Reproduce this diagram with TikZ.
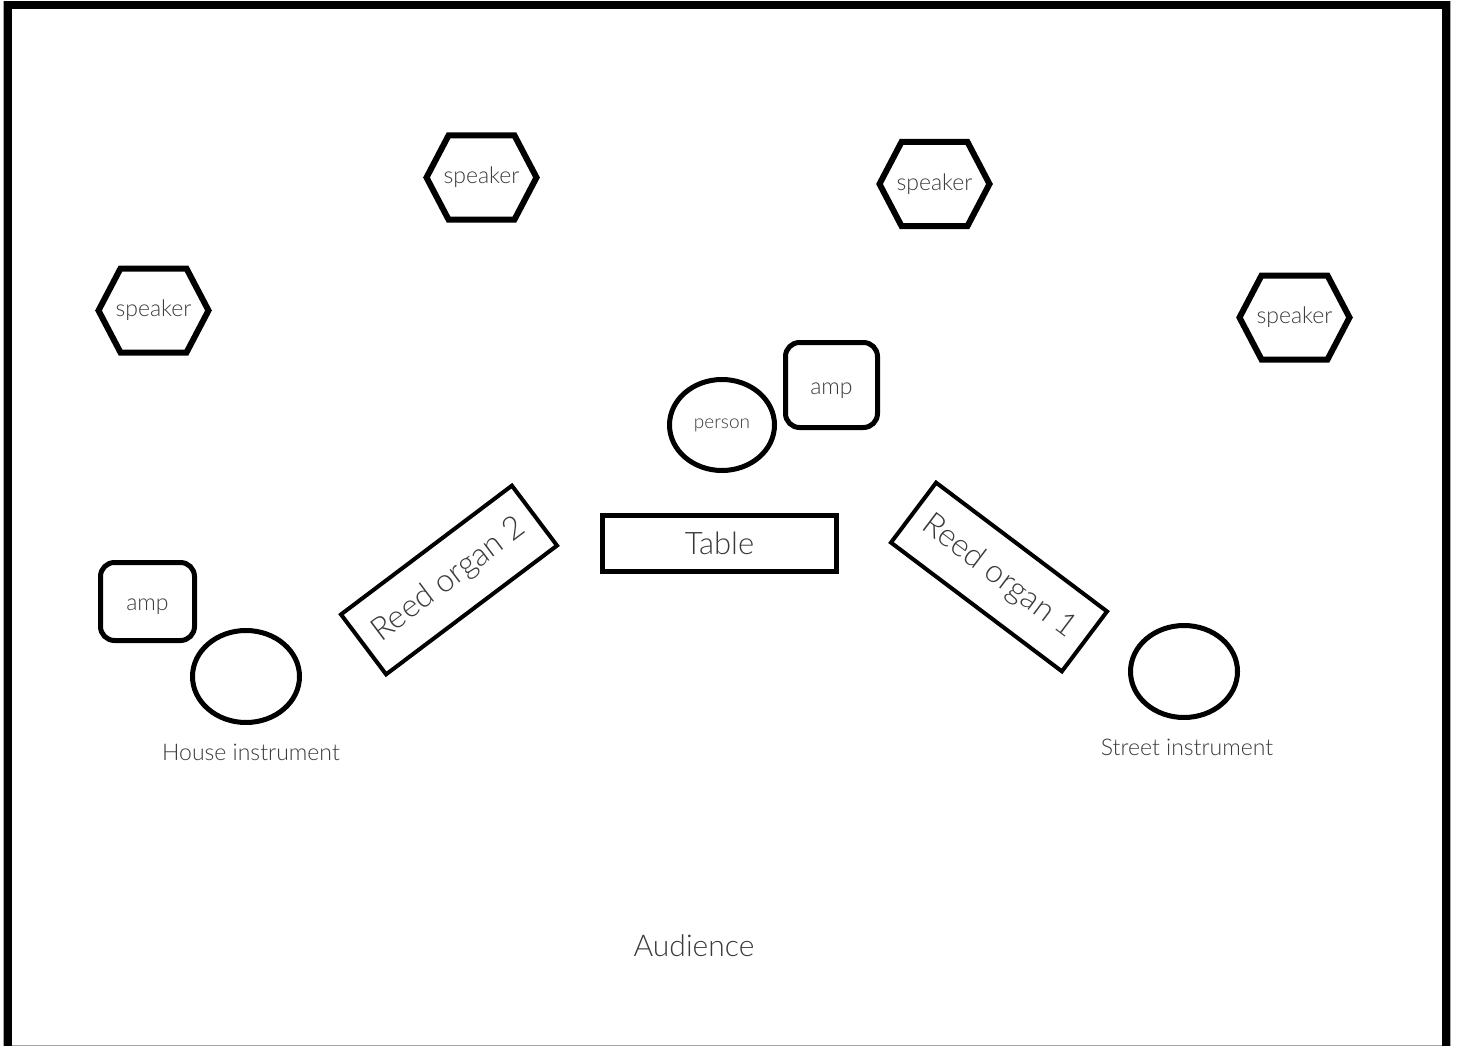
\documentclass[tikz,border=0pt]{standalone}
\usepackage{fontspec}
\setmainfont{Lato Light}
\usetikzlibrary{shapes.geometric,calc}
\definecolor{txt}{HTML}{3A3A3A}
\tikzset{
  shp/.style={draw=black, line width=5pt, text=txt, inner sep=0pt},
  ampbox/.style={shp, rounded corners=14pt, font=\fontsize{23}{26}\selectfont, text height=21pt, text depth=3pt},
  instr/.style={shp, ellipse, minimum width=107pt, minimum height=92pt},
  organ/.style={shp, line width=4pt, minimum width=214pt, minimum height=75pt, font=\fontsize{32}{36}\selectfont},
  spk/.style={text=txt, inner sep=0pt, font=\fontsize{23}{26}\selectfont},
  lbl/.style={text=txt, inner sep=0pt, font=\fontsize{23}{27}\selectfont},
}
\newcommand{\hexaround}[1]{%
  \draw[line width=6pt, line join=miter]
    ($(#1)+(-55,0)$) -- ($(#1)+(-33,-42)$) -- ($(#1)+(33,-42)$) --
    ($(#1)+(55,0)$) -- ($(#1)+(33,42)$) -- ($(#1)+(-33,42)$) -- cycle;}
\begin{document}
\begin{tikzpicture}[x=1pt, y=-1pt]
\useasboundingbox (0,0) rectangle (1459,1046);
% frame
\draw[gray!70, line width=1pt] (3,1.5) rectangle (1450,1045);
\draw[line width=8pt] (7.5,1060) -- (7.5,5.5) -- (1445.5,5.5) -- (1445.5,1060);
% speakers
\node[spk] (s1) at (481.5,177.5) {speaker};
\node[spk] (s2) at (934.5,184) {speaker};
\node[spk] (s3) at (153.5,310.5) {speaker};
\node[spk] (s4) at (1294.5,317.5) {speaker};
\hexaround{s1}\hexaround{s2}\hexaround{s3}\hexaround{s4}
% centre
\node[shp, ellipse, minimum width=105pt, minimum height=91pt, font=\fontsize{19}{22}\selectfont] (person) at (722,425) {person};
\node[ampbox, minimum width=92pt, minimum height=85pt] (amp1) at (831.5,385) {amp};
\node[shp, minimum width=234pt, minimum height=56pt, font=\fontsize{31}{35}\selectfont] (table) at (719.5,543.5) {Table};
\node[organ, rotate=37] (reed2) at (449,580) {Reed organ 2};
\node[organ, rotate=-37] (reed1) at (999,577) {Reed organ 1};
% left
\node[ampbox, minimum width=94pt, minimum height=78pt] (amp2) at (147.5,601.5) {amp};
\node[instr] (house) at (246,676.5) {};
\node[lbl] (houselbl) at (251,752) {House instrument};
% right
\node[instr] (street) at (1184,671.5) {};
\node[lbl] (streetlbl) at (1187,747) {Street instrument};
% audience
\node[text=txt, inner sep=0pt, font=\fontsize{30}{35}\selectfont] (aud) at (694,946) {Audience};
\end{tikzpicture}
\end{document}
